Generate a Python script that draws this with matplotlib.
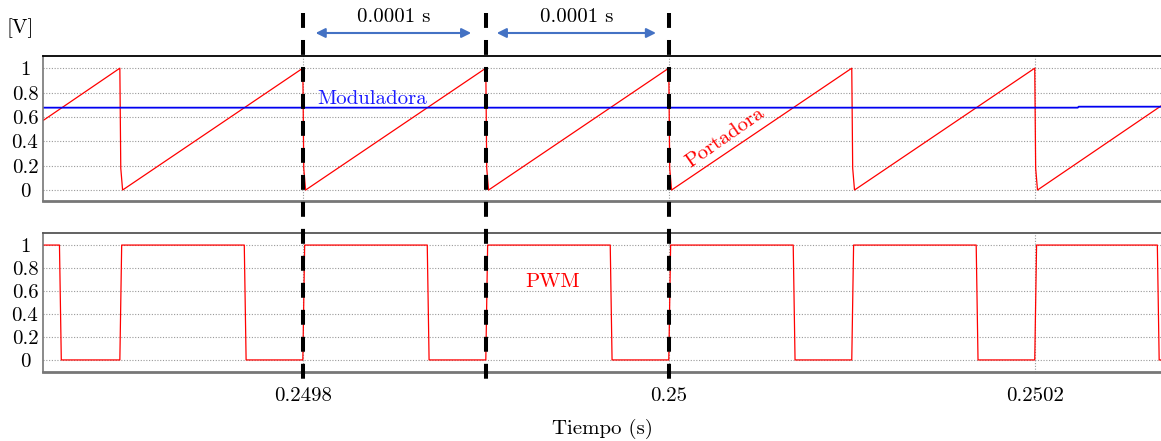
import numpy as np
import matplotlib
matplotlib.use('Agg')
import matplotlib.pyplot as plt
from matplotlib.lines import Line2D
from matplotlib.transforms import blended_transform_factory

plt.rcParams['font.family'] = ['cmr10', 'DejaVu Serif']
plt.rcParams['axes.formatter.use_mathtext'] = True
plt.rcParams['font.size'] = 15

# carrier (portadora) breakpoints
carrier_t = [0.249658, 0.2497, 0.2497005, 0.2497015,
             0.2498, 0.2498005, 0.2498015,
             0.2499, 0.2499005, 0.2499015,
             0.2500, 0.2500005, 0.2500015,
             0.2501, 0.2501005, 0.2501015,
             0.2502, 0.2502005, 0.2502015, 0.250269]
carrier_v = [0.57, 1.0, 0.18, 0.0,
             1.0, 0.18, 0.0,
             1.0, 0.18, 0.0,
             1.0, 0.18, 0.0,
             1.0, 0.18, 0.0,
             1.0, 0.18, 0.0, 0.69]

# modulator (moduladora)
mod_t = [0.249658, 0.2502235, 0.2502240, 0.250269]
mod_v = [0.676, 0.676, 0.684, 0.684]

# PWM output
pwm_t = [0.249658, 0.249667, 0.249668, 0.2497, 0.249701,
         0.249768, 0.249769, 0.2498, 0.249801,
         0.249868, 0.249869, 0.2499, 0.249901,
         0.249968, 0.249969, 0.2500, 0.250001,
         0.250068, 0.250069, 0.2501, 0.250101,
         0.250168, 0.250169, 0.2502, 0.250201,
         0.250267, 0.250268, 0.250269]
pwm_v = [1, 1, 0, 0, 1,
         1, 0, 0, 1,
         1, 0, 0, 1,
         1, 0, 0, 1,
         1, 0, 0, 1,
         1, 0, 0, 1,
         1, 0, 0]

xticks = [0.2498, 0.25, 0.2502]
xtick_labels = ['0.2498', '0.25', '0.2502']
yticks = [0, 0.2, 0.4, 0.6, 0.8, 1]
ytick_labels = ['0', '0.2', '0.4', '0.6', '0.8', '1']
markers = [0.2498, 0.2499, 0.25]

W, H = 1161, 441
fig = plt.figure(figsize=(W / 100, H / 100), dpi=100)
ax1 = fig.add_axes([43 / W, 1 - 201 / H, 1 - 43 / W, 145 / H])
ax2 = fig.add_axes([43 / W, 1 - 372 / H, 1 - 43 / W, 139 / H])

ax1.plot(carrier_t, carrier_v, color='red', lw=0.9)
ax1.plot(mod_t, mod_v, color='#0000f0', lw=1.3)
ax2.plot(pwm_t, pwm_v, color='red', lw=0.9)

ax1.set_ylim(-0.09, 1.1)
ax2.set_ylim(-0.105, 1.105)

for ax in (ax1, ax2):
    ax.set_xlim(0.249658, 0.250269)
    ax.set_xticks(xticks)
    ax.set_yticks(yticks)
    ax.set_yticklabels(ytick_labels)
    ax.grid(True, linestyle=(0, (1, 1.5)), color='#999999', lw=0.8)
    ax.tick_params(axis='both', length=0)
    ax.tick_params(axis='y', pad=13)
    for lab in ax.get_yticklabels():
        lab.set_horizontalalignment('center')
    ax.spines['right'].set_visible(False)
    ax.spines['left'].set_color('#777777')
    ax.spines['left'].set_linewidth(1.2)
    ax.spines['bottom'].set_color('#777777')
    ax.spines['bottom'].set_linewidth(2)
    ax.spines['top'].set_color('#555555')
    ax.spines['top'].set_linewidth(1.3)

ax1.spines['top'].set_color('black')
ax1.set_xticklabels([])
ax2.set_xticklabels(xtick_labels)
ax2.tick_params(axis='x', pad=11)
ax2.set_xlabel('Tiempo (s)', labelpad=10)

ax1.text(0.2498077, 0.746, 'Moduladora', color='#1a1aff', va='center', ha='left')
ax1.text(0.2500306, 0.434, 'Portadora', color='red', rotation=35,
         ha='center', va='center', rotation_mode='anchor')
ax2.text(0.2499366, 0.678, 'PWM', color='red', ha='center', va='center')

fig.text(20 / W, 1 - 28 / H, '[V]', ha='center', va='center')

# dashed period markers across both panels
tr = blended_transform_factory(ax1.transData, fig.transFigure)
for t in markers:
    ln = Line2D([t, t], [1 - 13 / H, 1 - 385 / H], transform=tr, color='black',
                lw=2.9, dashes=(3.7, 3.0), zorder=10)
    fig.add_artist(ln)

# period arrows
arrow_spans = [(0.249807, 0.249892), (0.249906, 0.249993)]
for a, b in arrow_spans:
    ax1.annotate('', xy=(b, 1 - 33 / H), xytext=(a, 1 - 33 / H),
                 xycoords=tr, textcoords=tr,
                 arrowprops=dict(arrowstyle='<|-|>', color='#4472C4', lw=1.5,
                                 mutation_scale=14, shrinkA=0, shrinkB=0))
    fig.text(0, 1 - 17 / H, '0.0001 s', transform=tr, ha='center', va='center')
    fig.texts[-1].set_x((a + b) / 2)

fig.savefig('out.png', dpi=100)
